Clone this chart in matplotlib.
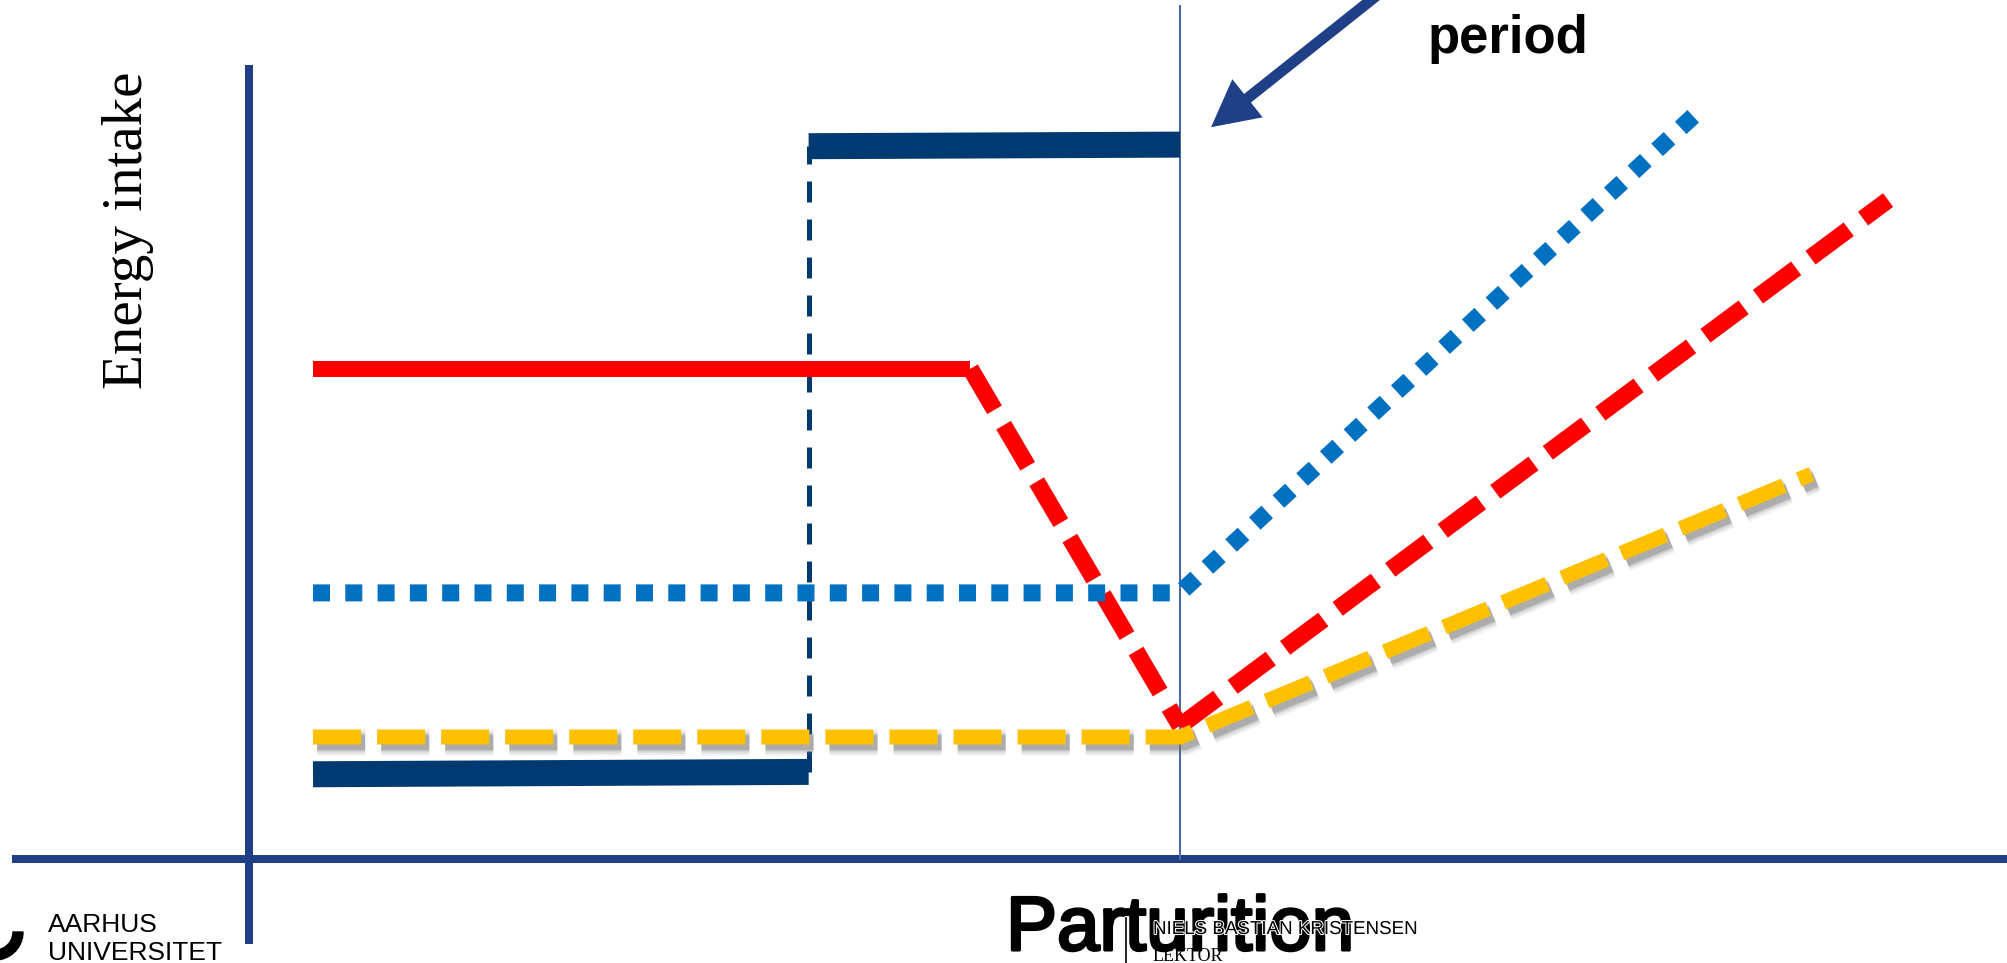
import matplotlib
matplotlib.use('Agg')
import matplotlib.pyplot as plt
from matplotlib import patheffects as pe
from matplotlib.patches import FancyArrowPatch, Wedge
from matplotlib.transforms import Affine2D

W, H = 2007, 963

# x: days relative to parturition, y: energy intake (arbitrary units)
navy_x = [-60, -25.7, -25.7, 0]
navy_y = [10.7, 11.0, 90.0, 90.2]
red_x = [-60, -14.5, 0, 49.0]
red_y = [61.9, 61.9, 16.8, 83.2]
blue_x = [-60, 0, 36.0]
blue_y = [33.6, 33.6, 94.6]
yellow_x = [-60, 0, 43.7]
yellow_y = [15.4, 15.4, 48.6]

parturition_day = 0
arrow_tip = (2.15, 92.4)
arrow_tail = (16.7, 113.5)

# axis line extents
yaxis_x = -64.4
yaxis_range = (-10.7, 100.3)
xaxis_range = (-80.8, 57.3)
part_top = 107.7

AXIS_COL = '#1F3F87'
NAVY = '#003A70'
RED = '#FF0000'
BLUE = '#0070C0'
YELLOW = '#FFC000'


def pt(px):
    return px * 0.72


fig = plt.figure(figsize=(W / 100, H / 100), dpi=100)
ax = fig.add_axes([0, 0, 1, 1])
ax.set_xlim(-81.66, 57.23)
ax.set_ylim(-13.13, 108.46)
ax.axis('off')

# pixel based transform for the footer and labels
px = Affine2D().scale(1 / W, -1 / H).translate(0, 1) + fig.transFigure

# axes lines
ax.plot(xaxis_range, [0, 0], color=AXIS_COL, lw=pt(8), solid_capstyle='butt', zorder=2)
ax.plot([yaxis_x, yaxis_x], yaxis_range, color=AXIS_COL, lw=pt(8), solid_capstyle='butt', zorder=2)
ax.plot([parturition_day, parturition_day], [0, part_top], color='#4A67A8', lw=pt(2), zorder=2)

# navy: low level, dashed jump, high level
ax.plot(navy_x[:2], navy_y[:2], color=NAVY, lw=pt(26), solid_capstyle='butt', zorder=3)
ax.plot(navy_x[1:3], navy_y[1:3], color=NAVY, lw=pt(5), dashes=(4.2, 3.4), zorder=3)
ax.plot(navy_x[2:], navy_y[2:], color=NAVY, lw=pt(26), solid_capstyle='butt', zorder=3)

# red: flat, drop to parturition, rise after
ax.plot(red_x[:2], red_y[:2], color=RED, lw=pt(16), solid_capstyle='butt', zorder=4)
ax.plot(red_x[1:3], red_y[1:3], color=RED, lw=pt(17), dashes=(2.8, 1.05), zorder=4)
ax.plot(red_x[2:], red_y[2:], color=RED, lw=pt(17), dashes=(2.8, 1.05), zorder=4)

# blue square dots
ax.plot(blue_x, blue_y, color=BLUE, lw=pt(17), dashes=(1.0, 0.9),
        solid_joinstyle='miter', zorder=4)

# yellow dashed with soft grey shadow
ylw = pt(15)
shadow = [
    pe.SimpleLineShadow(offset=(3, -4), shadow_color='#7a7a7a', alpha=0.10, linewidth=ylw + 8),
    pe.SimpleLineShadow(offset=(3, -4), shadow_color='#7a7a7a', alpha=0.15, linewidth=ylw + 5),
    pe.SimpleLineShadow(offset=(3, -4), shadow_color='#7a7a7a', alpha=0.22, linewidth=ylw + 2),
    pe.SimpleLineShadow(offset=(3, -4), shadow_color='#7a7a7a', alpha=0.35),
    pe.Normal(),
]
ax.plot(yellow_x, yellow_y, color=YELLOW, lw=ylw, dashes=(3.2, 1.07),
        path_effects=shadow, zorder=5)

# arrow pointing at the end of the period
arr = FancyArrowPatch(arrow_tail, arrow_tip, arrowstyle='-|>,head_length=21,head_width=11',
                      mutation_scale=1, lw=pt(11), color=AXIS_COL,
                      shrinkA=0, shrinkB=0, joinstyle='miter', capstyle='butt',
                      clip_on=False, zorder=6)
ax.add_patch(arr)

ax.text(1508, 53, 'period', transform=px, ha='center', va='baseline',
        fontsize=38, fontweight='bold', family='Liberation Sans')

# y label
ax.text(142, 230, 'Energy intake', transform=px, rotation=90, rotation_mode='anchor',
        ha='center', va='baseline', fontsize=41, family='Liberation Serif')

# x label and footer
ax.text(1180, 950, 'Parturition', transform=px, ha='center', va='baseline',
        fontsize=55, family='Liberation Sans', zorder=7,
        path_effects=[pe.withStroke(linewidth=2.2, foreground='black')])
ax.text(1153, 934, 'NIELS BASTIAN KRISTENSEN', transform=px, ha='left', va='baseline',
        fontsize=13.5, family='Liberation Sans', zorder=8,
        path_effects=[pe.withStroke(linewidth=1.5, foreground='white')])
ax.text(1153, 961, 'LEKTOR', transform=px, ha='left', va='baseline',
        fontsize=13, family='Liberation Serif', zorder=8)
ax.plot([1126, 1126], [918, 963], transform=px, color='black', lw=1.2, zorder=8)

ax.text(48, 932, 'AARHUS', transform=px, ha='left', va='baseline',
        fontsize=19, family='Liberation Sans')
ax.text(48, 960, 'UNIVERSITET', transform=px, ha='left', va='baseline',
        fontsize=19, family='Liberation Sans')
ax.add_patch(Wedge((-5, 932), 28, 0, 120, width=10, transform=px,
                   color='black', clip_on=False))

fig.savefig('out.png', dpi=100)
